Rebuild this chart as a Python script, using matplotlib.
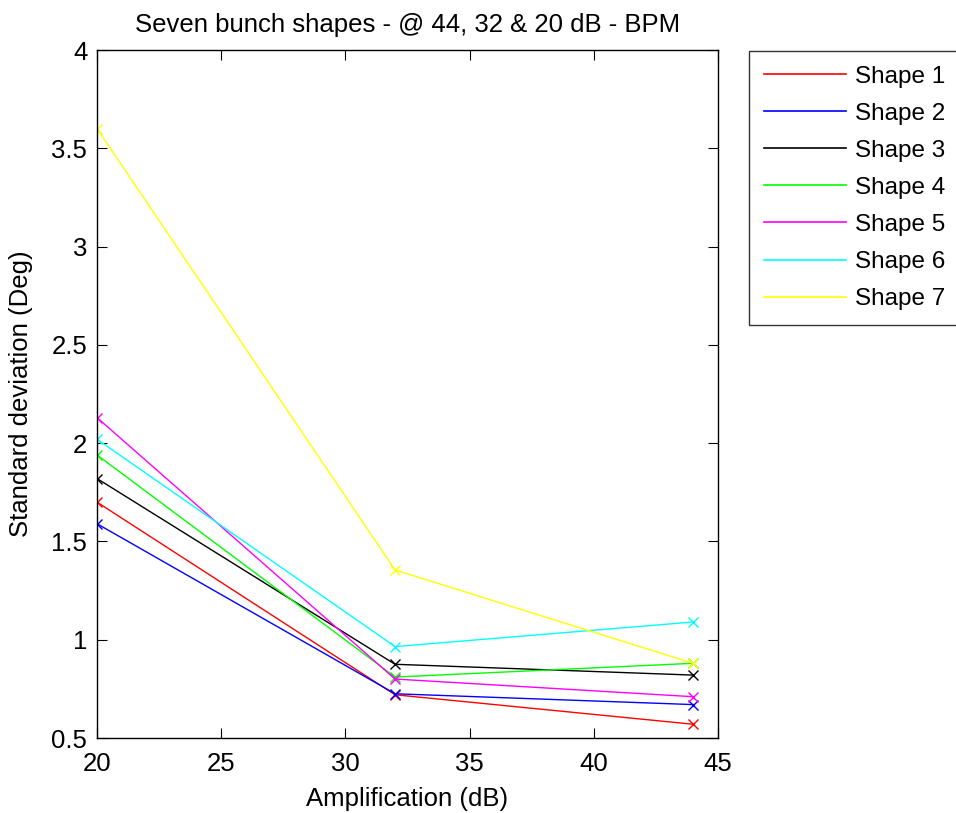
import matplotlib
matplotlib.use("Agg")
import matplotlib.pyplot as plt

amplification = [20, 32, 44]
shape1 = [1.70, 0.72, 0.57]
shape2 = [1.59, 0.725, 0.67]
shape3 = [1.82, 0.875, 0.82]
shape4 = [1.94, 0.81, 0.88]
shape5 = [2.13, 0.80, 0.71]
shape6 = [2.02, 0.965, 1.09]
shape7 = [3.60, 1.355, 0.88]
labels = ["Shape 1", "Shape 2", "Shape 3", "Shape 4", "Shape 5", "Shape 6", "Shape 7"]
colors = ["#ff0000", "#0000ff", "#000000", "#00ff00", "#ff00ff", "#00ffff", "#ffff00"]
series = [shape1, shape2, shape3, shape4, shape5, shape6, shape7]

plt.rcParams['font.family'] = ['Liberation Sans', 'DejaVu Sans']
W, H = 956, 813
fig = plt.figure(figsize=(W/100, H/100), dpi=100)
ax = fig.add_axes([97/W, 1-738/H, (718-97)/W, (738-50)/H])

lines = []
for s, c, l in zip(series, colors, labels):
    ax.plot(amplification, s, color=c, lw=1.0, marker='x', ms=7.5, mew=1.0)
    lines.append(plt.Line2D([], [], color=c, lw=1.2, label=l))

ax.set_xlim(20, 45)
ax.set_ylim(0.5, 4)
ax.set_xticks([20, 25, 30, 35, 40, 45])
ax.set_yticks([0.5, 1, 1.5, 2, 2.5, 3, 3.5, 4])
ax.set_yticklabels(["0.5", "1", "1.5", "2", "2.5", "3", "3.5", "4"])
ax.tick_params(direction='in', top=True, right=True, length=7, labelsize=18.5, colors='black')
ax.tick_params(axis='x', pad=10)
ax.tick_params(axis='y', pad=7)
for sp in ax.spines.values():
    sp.set_linewidth(1.0)
ax.set_title("Seven bunch shapes - @ 44, 32 & 20 dB - BPM", fontsize=18.5, pad=13)
ax.set_xlabel("Amplification (dB)", fontsize=18.5, labelpad=8)
ax.set_ylabel("Standard deviation (Deg)", fontsize=18.5)
ax.yaxis.set_label_coords(-0.103, 0.5)

leg = fig.legend(handles=lines, loc='upper left', bbox_to_anchor=(749/W, 1-51/H),
                 fontsize=17.5, frameon=True, fancybox=False, edgecolor='black',
                 handlelength=3.4, handletextpad=0.35, labelspacing=0.62, borderpad=0.6,
                 borderaxespad=0)
leg.get_frame().set_linewidth(1.0)

fig.savefig("out.png", dpi=100)
